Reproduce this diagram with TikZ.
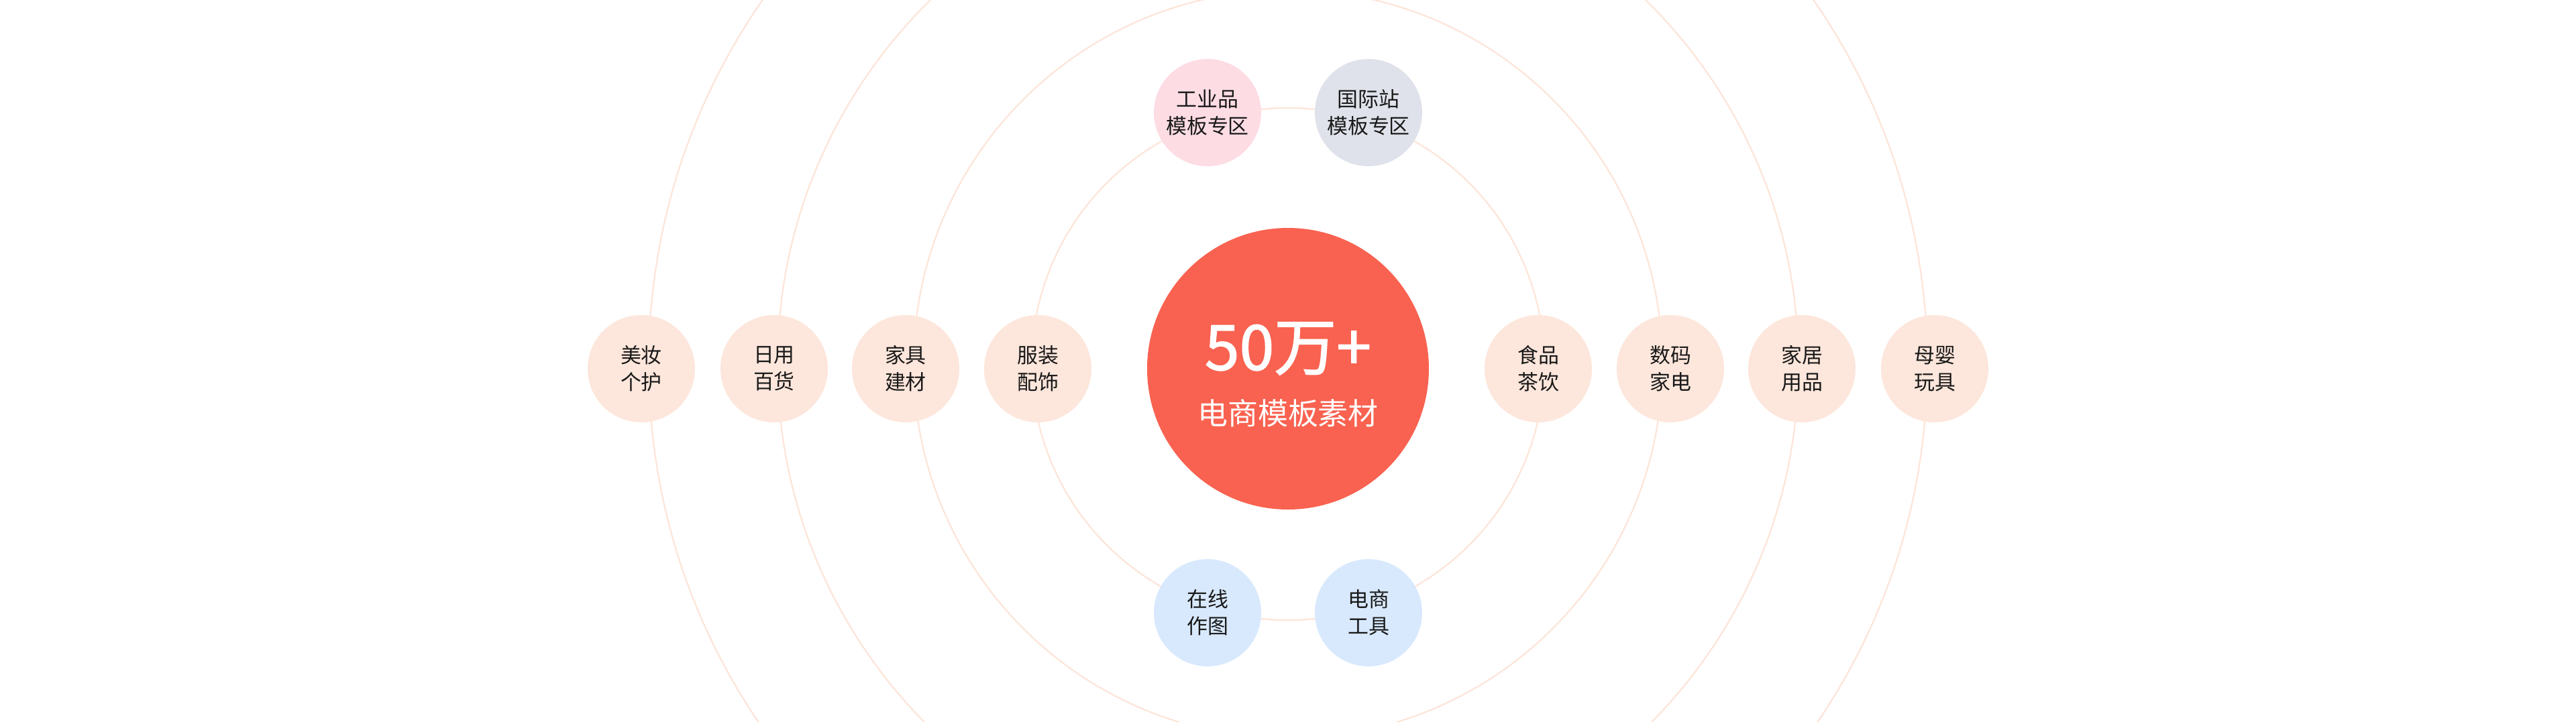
\documentclass[tikz,border=0pt]{standalone}
\usepackage{fontspec}
\setmainfont{Noto Sans CJK SC}
\newfontfamily\numfont[FakeBold=1.6]{Noto Sans CJK SC}
\definecolor{hubred}{HTML}{F96250}
\definecolor{ringpeach}{HTML}{FDE4D7}
\definecolor{catpeach}{HTML}{FDE6DB}
\definecolor{indpink}{HTML}{FDDCE4}
\definecolor{intlgray}{HTML}{DFE2EA}
\definecolor{toolblue}{HTML}{D8E9FD}

\begin{document}
\begin{tikzpicture}[
  every node/.style={font=\fontsize{8.8pt}{11.4pt}\selectfont, text=black!90},
  cat/.style ={circle, minimum size=1.6cm, inner sep=0pt, align=center, fill=catpeach},
  ind/.style ={cat, fill=indpink},
  intl/.style={cat, fill=intlgray},
  tool/.style={cat, fill=toolblue},
  hub/.style ={circle, minimum size=4.2cm, inner sep=0pt, fill=hubred},
  numtxt/.style={font=\numfont\fontsize{26.5pt}{30pt}\selectfont, text=white},
  captxt/.style={font=\fontsize{12.8pt}{15pt}\selectfont, text=white},
  ring/.style={draw=ringpeach, line width=0.6pt}
]

\fill[white, use as bounding box] (-19.2,-5.26) rectangle (19.2,5.5);

%% ─── rings ────────────────────────────────────────────────────────────────
\coordinate (rc) at (0,0.07);
\foreach \r in {3.82,5.58,7.61,9.53}
  \draw[ring] (rc) circle (\r);

%% ─── centre ───────────────────────────────────────────────────────────────
\node[hub]    (ctr) at (0,0)     {};
\node[numtxt] (num) at (0,0.30)  {50万+};
\node[captxt] (cap) at (0,-0.66) {电商模板素材};

%% ─── side rows ────────────────────────────────────────────────────────────
\foreach \x/\n/\lbl in {-3.73/l1/服装\\配饰, -5.70/l2/家具\\建材,
                        -7.66/l3/日用\\百货, -9.64/l4/美妆\\个护,
                         3.73/r1/食品\\茶饮,  5.70/r2/数码\\家电,
                         7.66/r3/家居\\用品,  9.64/r4/母婴\\玩具}
  \node[cat] (\n) at (\x,0) {\lbl};

%% ─── top / bottom pairs ───────────────────────────────────────────────────
\node[ind]  (indz)  at (-1.2, 3.82) {工业品\\模板专区};
\node[intl] (intlz) at ( 1.2, 3.82) {国际站\\模板专区};
\node[tool] (draw)  at (-1.2,-3.64) {在线\\作图};
\node[tool] (tools) at ( 1.2,-3.64) {电商\\工具};

\end{tikzpicture}
\end{document}
